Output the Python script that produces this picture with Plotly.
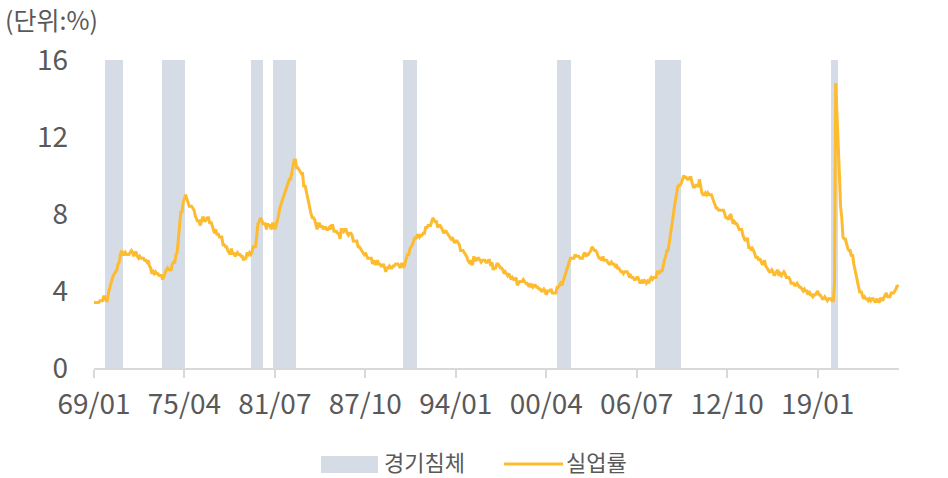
import pandas as pd
import plotly.graph_objects as go

# ---------------- data ----------------
start_month = "1969-01-01"
unemployment_rate = [
    3.4, 3.4, 3.4, 3.4, 3.4, 3.5, 3.5, 3.5, 3.7, 3.7, 3.5, 3.5,   # 1969
    3.9, 4.2, 4.4, 4.6, 4.8, 4.9, 5.0, 5.1, 5.4, 5.5, 5.9, 6.1,   # 1970
    5.9, 5.9, 6.0, 5.9, 5.9, 5.9, 6.0, 6.1, 6.0, 5.8, 6.0, 6.0,   # 1971
    5.8, 5.7, 5.8, 5.7, 5.7, 5.7, 5.6, 5.6, 5.5, 5.6, 5.3, 5.2,   # 1972
    4.9, 5.0, 4.9, 5.0, 4.9, 4.9, 4.8, 4.8, 4.8, 4.6, 4.8, 4.9,   # 1973
    5.1, 5.2, 5.1, 5.1, 5.1, 5.4, 5.5, 5.5, 5.9, 6.0, 6.6, 7.2,   # 1974
    8.1, 8.1, 8.6, 8.8, 9.0, 8.8, 8.6, 8.4, 8.4, 8.4, 8.3, 8.2,   # 1975
    7.9, 7.7, 7.6, 7.7, 7.4, 7.6, 7.8, 7.8, 7.6, 7.7, 7.8, 7.8,   # 1976
    7.5, 7.6, 7.4, 7.2, 7.0, 7.2, 6.9, 7.0, 6.8, 6.8, 6.8, 6.4,   # 1977
    6.4, 6.3, 6.3, 6.1, 6.0, 5.9, 6.2, 5.9, 6.0, 5.8, 5.9, 6.0,   # 1978
    5.9, 5.9, 5.8, 5.8, 5.6, 5.7, 5.7, 6.0, 5.9, 6.0, 5.9, 6.0,   # 1979
    6.3, 6.3, 6.3, 6.9, 7.5, 7.6, 7.8, 7.7, 7.5, 7.5, 7.5, 7.2,   # 1980
    7.5, 7.4, 7.4, 7.2, 7.5, 7.5, 7.2, 7.4, 7.6, 7.9, 8.3, 8.5,   # 1981
    8.6, 8.9, 9.0, 9.3, 9.4, 9.6, 9.8, 9.8, 10.1, 10.4, 10.8, 10.8,  # 1982
    10.4, 10.4, 10.3, 10.2, 10.1, 10.1, 9.4, 9.5, 9.2, 8.8, 8.5, 8.3,  # 1983
    8.0, 7.8, 7.8, 7.7, 7.4, 7.2, 7.5, 7.5, 7.3, 7.4, 7.2, 7.3,   # 1984
    7.3, 7.2, 7.2, 7.3, 7.2, 7.4, 7.4, 7.1, 7.1, 7.1, 7.0, 7.0,   # 1985
    6.7, 7.2, 7.2, 7.1, 7.2, 7.2, 7.0, 6.9, 7.0, 7.0, 6.9, 6.6,   # 1986
    6.6, 6.6, 6.6, 6.3, 6.3, 6.2, 6.1, 6.0, 5.9, 6.0, 5.8, 5.7,   # 1987
    5.7, 5.7, 5.7, 5.4, 5.6, 5.4, 5.4, 5.6, 5.4, 5.4, 5.3, 5.3,   # 1988
    5.4, 5.2, 5.0, 5.2, 5.2, 5.3, 5.2, 5.2, 5.3, 5.3, 5.4, 5.4,   # 1989
    5.4, 5.3, 5.2, 5.4, 5.4, 5.2, 5.5, 5.7, 5.9, 5.9, 6.2, 6.3,   # 1990
    6.4, 6.6, 6.8, 6.7, 6.9, 6.9, 6.8, 6.9, 6.9, 7.0, 7.0, 7.3,   # 1991
    7.3, 7.4, 7.4, 7.4, 7.6, 7.8, 7.7, 7.6, 7.6, 7.3, 7.4, 7.4,   # 1992
    7.3, 7.1, 7.0, 7.1, 7.1, 7.0, 6.9, 6.8, 6.7, 6.8, 6.6, 6.5,   # 1993
    6.6, 6.6, 6.5, 6.4, 6.1, 6.1, 6.1, 6.0, 5.9, 5.8, 5.6, 5.5,   # 1994
    5.6, 5.4, 5.4, 5.8, 5.6, 5.6, 5.7, 5.7, 5.6, 5.5, 5.6, 5.6,   # 1995
    5.6, 5.5, 5.5, 5.6, 5.6, 5.3, 5.5, 5.1, 5.2, 5.2, 5.4, 5.4,   # 1996
    5.3, 5.2, 5.2, 5.1, 4.9, 5.0, 4.9, 4.8, 4.9, 4.7, 4.6, 4.7,   # 1997
    4.6, 4.6, 4.7, 4.3, 4.4, 4.5, 4.5, 4.5, 4.6, 4.5, 4.4, 4.4,   # 1998
    4.3, 4.4, 4.2, 4.3, 4.2, 4.3, 4.3, 4.2, 4.2, 4.1, 4.1, 4.0,   # 1999
    4.0, 4.1, 4.0, 3.8, 4.0, 4.0, 4.0, 4.1, 3.9, 3.9, 3.9, 3.9,   # 2000
    4.2, 4.2, 4.3, 4.4, 4.3, 4.5, 4.6, 4.9, 5.0, 5.3, 5.5, 5.7,   # 2001
    5.7, 5.7, 5.7, 5.9, 5.8, 5.8, 5.8, 5.7, 5.7, 5.7, 5.9, 6.0,   # 2002
    5.8, 5.9, 5.9, 6.0, 6.1, 6.3, 6.2, 6.1, 6.1, 6.0, 5.8, 5.7,   # 2003
    5.7, 5.6, 5.8, 5.6, 5.6, 5.6, 5.5, 5.4, 5.4, 5.5, 5.4, 5.4,   # 2004
    5.3, 5.4, 5.2, 5.2, 5.1, 5.0, 5.0, 4.9, 5.0, 5.0, 5.0, 4.9,   # 2005
    4.7, 4.8, 4.7, 4.7, 4.6, 4.6, 4.7, 4.7, 4.5, 4.4, 4.5, 4.4,   # 2006
    4.6, 4.5, 4.4, 4.5, 4.4, 4.6, 4.7, 4.6, 4.7, 4.7, 4.7, 5.0,   # 2007
    5.0, 4.9, 5.1, 5.0, 5.4, 5.6, 5.8, 6.1, 6.1, 6.5, 6.8, 7.3,   # 2008
    7.8, 8.3, 8.7, 9.0, 9.4, 9.5, 9.5, 9.6, 9.8, 10.0, 9.9, 9.9,  # 2009
    9.8, 9.8, 9.9, 9.9, 9.6, 9.4, 9.4, 9.5, 9.5, 9.4, 9.8, 9.3,   # 2010
    9.1, 9.0, 9.0, 9.1, 9.0, 9.1, 9.0, 9.0, 9.0, 8.8, 8.6, 8.5,   # 2011
    8.3, 8.3, 8.2, 8.2, 8.2, 8.2, 8.2, 8.0, 7.8, 7.8, 7.7, 7.9,   # 2012
    8.0, 7.7, 7.5, 7.6, 7.5, 7.5, 7.3, 7.2, 7.2, 7.2, 6.9, 6.7,   # 2013
    6.6, 6.7, 6.7, 6.2, 6.3, 6.1, 6.2, 6.1, 5.9, 5.7, 5.8, 5.6,   # 2014
    5.7, 5.5, 5.4, 5.4, 5.6, 5.3, 5.2, 5.1, 5.0, 5.0, 5.1, 5.0,   # 2015
    4.8, 4.9, 5.0, 5.1, 4.8, 4.9, 4.8, 4.9, 5.0, 4.9, 4.7, 4.7,   # 2016
    4.7, 4.6, 4.4, 4.4, 4.4, 4.3, 4.3, 4.4, 4.3, 4.2, 4.2, 4.1,   # 2017
    4.0, 4.1, 4.0, 4.0, 3.8, 4.0, 3.8, 3.8, 3.7, 3.8, 3.8, 3.9,   # 2018
    4.0, 3.8, 3.8, 3.7, 3.6, 3.6, 3.7, 3.6, 3.5, 3.6, 3.6, 3.6,   # 2019
    3.5, 3.5, 4.4, 14.8, 13.2, 11.0, 10.2, 8.4, 7.8, 6.8, 6.7, 6.7,  # 2020
    6.4, 6.2, 6.1, 6.1, 5.8, 5.9, 5.4, 5.1, 4.7, 4.5, 4.2, 3.9,   # 2021
    4.0, 3.8, 3.6, 3.7, 3.6, 3.6, 3.5, 3.6, 3.5, 3.6, 3.6, 3.5,   # 2022
    3.4, 3.6, 3.5, 3.4, 3.6, 3.6, 3.5, 3.7, 3.8, 3.9, 3.7, 3.7,   # 2023
    3.7, 3.9, 3.9, 3.9, 4.0, 4.1, 4.3, 4.2,                       # 2024
]

recession_start = ["1969-11", "1973-10", "1979-12", "1981-06", "1990-06", "2001-02", "2007-11", "2020-01"]
recession_end = ["1970-12", "1975-04", "1980-08", "1982-12", "1991-04", "2001-12", "2009-07", "2020-05"]
recession_level = 16

tick_dates = ["1969-01-01", "1975-04-01", "1981-07-01", "1987-10-01", "1994-01-01",
              "2000-04-01", "2006-07-01", "2012-10-01", "2019-01-01"]
tick_labels = ["69/01", "75/04", "81/07", "87/10", "94/01", "00/04", "06/07", "12/10", "19/01"]

unit_label = "(단위:%)"
recession_name = "경기침체"
rate_name = "실업률"

# ---------------- build ----------------
months = pd.date_range(start_month, periods=len(unemployment_rate), freq="MS")
rec_y = []
for m in months:
    flag = None
    for s, e in zip(recession_start, recession_end):
        if pd.Timestamp(s) <= m <= pd.Timestamp(e):
            flag = recession_level
    rec_y.append(flag)

W, H = 948, 478
ML, MR, MT, MB = 94, 49, 60, 110
PW, PH = W - ML - MR, H - MT - MB


def px_x(px):
    return (px - ML) / PW


def px_y(py):
    return (H - MB - py) / PH


GRAY_BAR = "#D6DCE5"
GOLD = "#FDBB2F"
TXT = "#595959"
FONT = "Noto Sans CJK KR"

fig = go.Figure()
fig.add_trace(go.Bar(
    x=months, y=rec_y, name=recession_name,
    marker=dict(color=GRAY_BAR, line=dict(width=0)),
    width=31 * 24 * 3600 * 1000, showlegend=False, hoverinfo="skip",
))
fig.add_trace(go.Scatter(
    x=months, y=unemployment_rate, name=rate_name, mode="lines",
    line=dict(color=GOLD, width=3), showlegend=False,
))

fig.update_layout(
    width=W, height=H,
    margin=dict(l=ML, r=MR, t=MT, b=MB),
    paper_bgcolor="white", plot_bgcolor="white",
    font=dict(family=FONT, color=TXT, size=24),
    bargap=0,
)
fig.update_xaxes(
    type="date",
    range=["1969-01-01", "2024-08-15"],
    tickvals=tick_dates, ticktext=tick_labels,
    showline=True, linecolor="#D9D9D9", linewidth=2,
    ticks="outside", ticklen=8, tickwidth=2, tickcolor="#D9D9D9",
    showgrid=False, zeroline=False, ticklabelstandoff=2,
    tickfont=dict(size=28, color=TXT, family=FONT),
)
fig.update_yaxes(
    range=[0, 16], tickvals=[0, 4, 8, 12, 16],
    showline=False, showgrid=False, zeroline=False,
    ticks="", ticklabelstandoff=25,
    tickfont=dict(size=28, color=TXT, family=FONT),
)

# unit label
fig.add_annotation(
    text=unit_label, xref="paper", yref="paper",
    x=px_x(3), y=px_y(19), xanchor="left", yanchor="middle",
    showarrow=False, font=dict(size=25, color=TXT, family=FONT),
)

# custom legend
fig.add_shape(type="rect", xref="paper", yref="paper",
              x0=px_x(321), x1=px_x(378), y0=px_y(473), y1=px_y(456),
              fillcolor=GRAY_BAR, line=dict(width=0))
fig.add_annotation(text=recession_name, xref="paper", yref="paper",
                   x=px_x(383), y=px_y(461), xanchor="left", yanchor="middle",
                   showarrow=False, borderpad=0,
                   font=dict(size=22, color=TXT, family=FONT))
fig.add_shape(type="line", xref="paper", yref="paper",
              x0=px_x(504), x1=px_x(563), y0=px_y(464), y1=px_y(464),
              line=dict(color=GOLD, width=3))
fig.add_annotation(text=rate_name, xref="paper", yref="paper",
                   x=px_x(565), y=px_y(461), xanchor="left", yanchor="middle",
                   showarrow=False, borderpad=0,
                   font=dict(size=22, color=TXT, family=FONT))

fig.write_html("out.html", config={"displayModeBar": False},
               post_script="document.body.style.margin='0';")
